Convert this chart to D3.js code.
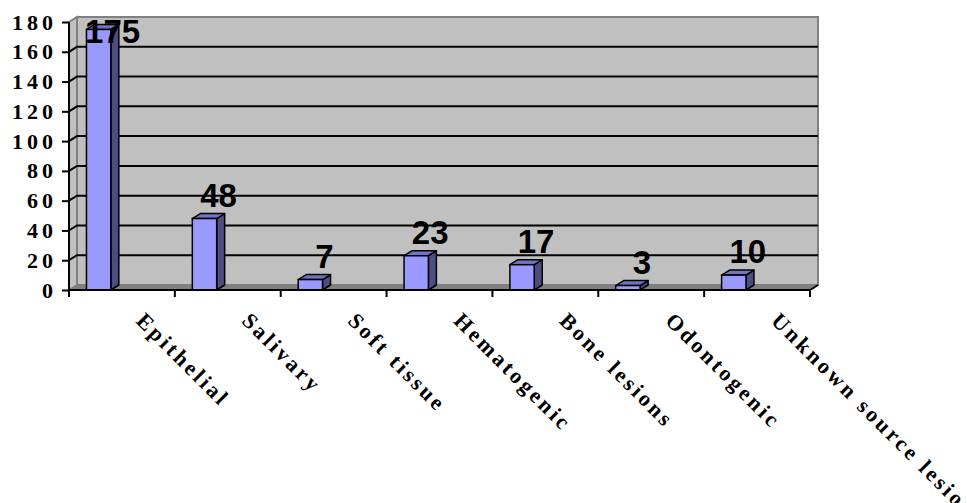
<!DOCTYPE html>
<html>
<head>
<meta charset="utf-8">
<script src="https://cdn.jsdelivr.net/npm/d3@7"></script>
<style>
  body { margin: 0; background: #fff; }
  svg { display: block; }
</style>
</head>
<body>
<div id="chart"></div>
<script>
// Data
var categories = ["Epithelial", "Salivary", "Soft tissue", "Hematogenic", "Bone lesions", "Odontogenic", "Unknown source lesions"];
var counts = [175, 48, 7, 23, 17, 3, 10];
var yTicks = [0, 20, 40, 60, 80, 100, 120, 140, 160, 180];

var width = 967, height = 503;
// 3D depth offset of the back wall
var dx = 8, dy = -5;

var svg = d3.select("#chart")
  .append("svg")
    .attr("width", width)
    .attr("height", height);

var x = d3.scaleBand()
  .domain(categories)
  .range([69, 810])
  .padding(0);

var y = d3.scaleLinear()
  .domain([0, 180])
  .range([290, 22]);

var x0 = x.range()[0], x1 = x.range()[1];
var yb = y(0), yt = y(180);

/////////////////// Walls ///////////////////

// back wall
svg.append("rect")
  .attr("x", x0 + dx)
  .attr("y", yt + dy)
  .attr("width", x1 - x0)
  .attr("height", yb - yt)
  .attr("fill", "#c0c0c0")
  .attr("stroke", "#808080")
  .attr("stroke-width", 2);

// left side wall
svg.append("polygon")
  .attr("points", [[x0, yb], [x0, yt], [x0 + dx, yt + dy], [x0 + dx, yb + dy]].join(" "))
  .attr("fill", "#c0c0c0")
  .attr("stroke", "#808080")
  .attr("stroke-width", 2);

// floor
svg.append("polygon")
  .attr("points", [[x0, yb], [x1, yb], [x1 + dx, yb + dy], [x0 + dx, yb + dy]].join(" "))
  .attr("fill", "#808080")
  .attr("stroke", "#808080")
  .attr("stroke-width", 1);

// gridlines on back and side wall
var grid = yTicks.filter(function(t) { return t > 0 && t < 180; });
svg.selectAll(".grid")
  .data(grid)
  .enter().append("path")
    .attr("class", "grid")
    .attr("d", function(t) {
      return "M" + x0 + "," + y(t) + "L" + (x0 + dx) + "," + (y(t) + dy) + "H" + (x1 + dx);
    })
    .attr("fill", "none")
    .attr("stroke", "#000")
    .attr("stroke-width", 2);

/////////////////// Bars ///////////////////

var bw = x.bandwidth();
var barLeft = function(c) { return x(c) + bw * 0.165; };
var barW = bw * 0.23;

var bars = svg.selectAll(".bar")
  .data(categories)
  .enter().append("g")
    .attr("class", "bar");

// side face
bars.append("polygon")
  .attr("points", function(c, i) {
    var r = barLeft(c) + barW, top = y(counts[i]);
    return [[r, yb], [r, top], [r + dx, top + dy], [r + dx, yb + dy]].join(" ");
  })
  .attr("fill", "#4d4d80")
  .attr("stroke", "#000")
  .attr("stroke-width", 1.5)
  .attr("stroke-linejoin", "round");

// top face
bars.append("polygon")
  .attr("points", function(c, i) {
    var l = barLeft(c), r = l + barW, top = y(counts[i]);
    return [[l, top], [r, top], [r + dx, top + dy], [l + dx, top + dy]].join(" ");
  })
  .attr("fill", "#7373bf")
  .attr("stroke", "#000")
  .attr("stroke-width", 1.5)
  .attr("stroke-linejoin", "round");

// front face
bars.append("rect")
  .attr("x", function(c) { return barLeft(c); })
  .attr("y", function(c, i) { return y(counts[i]); })
  .attr("width", barW)
  .attr("height", function(c, i) { return yb - y(counts[i]); })
  .attr("fill", "#9999ff")
  .attr("stroke", "#000")
  .attr("stroke-width", 1.5);

/////////////////// Axes ///////////////////

var yAxis = d3.axisLeft(y)
  .tickValues(yTicks)
  .tickSize(7)
  .tickPadding(5)
  .tickFormat(d3.format("d"));

var gy = svg.append("g")
  .attr("transform", "translate(" + x0 + ",0)")
  .call(yAxis);

gy.select(".domain").attr("stroke", "#000").attr("stroke-width", 2)
  .attr("d", "M0," + yt + "V" + (yb + 7));
gy.selectAll(".tick line").attr("stroke", "#000").attr("stroke-width", 2);
gy.selectAll(".tick text")
  .attr("font-family", "'Liberation Serif', 'Times New Roman', serif")
  .attr("font-weight", "bold")
  .attr("font-size", 22)
  .attr("letter-spacing", 4)
  .attr("fill", "#000");

// bottom axis with ticks at category boundaries
var bounds = categories.map(function(c) { return x(c); }).concat([x1]);
svg.append("path")
  .attr("d", "M" + x0 + "," + yb + "H" + x1 + "L" + (x1 + dx) + "," + (yb + dy))
  .attr("fill", "none")
  .attr("stroke", "#000")
  .attr("stroke-width", 2);

svg.selectAll(".xtick")
  .data(bounds)
  .enter().append("line")
    .attr("class", "xtick")
    .attr("x1", function(d) { return d; })
    .attr("x2", function(d) { return d; })
    .attr("y1", yb)
    .attr("y2", yb + 7)
    .attr("stroke", "#000")
    .attr("stroke-width", 2);

// rotated category labels (the last one runs off the right edge, as in the original)
svg.selectAll(".xlabel")
  .data(categories)
  .enter().append("text")
    .attr("class", "xlabel")
    .attr("transform", function(c) {
      return "translate(" + (x(c) + bw / 2 + 13) + ",322) rotate(45)";
    })
    .attr("font-family", "'Liberation Serif', 'Times New Roman', serif")
    .attr("font-weight", "bold")
    .attr("font-size", 22)
    .attr("letter-spacing", 3)
    .attr("text-anchor", "start")
    .text(function(c) { return c; });

/////////////////// Value labels ///////////////////

svg.selectAll(".vlabel")
  .data(categories)
  .enter().append("text")
    .attr("class", "vlabel")
    .attr("x", function(c) { return barLeft(c) + barW / 2 + 14; })
    .attr("y", function(c, i) { return Math.max(y(counts[i]) - 12, 43); })
    .attr("text-anchor", "middle")
    .attr("font-family", "'Liberation Sans', Arial, sans-serif")
    .attr("font-weight", "bold")
    .attr("font-size", 33)
    .attr("fill", "#000")
    .text(function(c, i) { return counts[i]; });
</script>
</body>
</html>
